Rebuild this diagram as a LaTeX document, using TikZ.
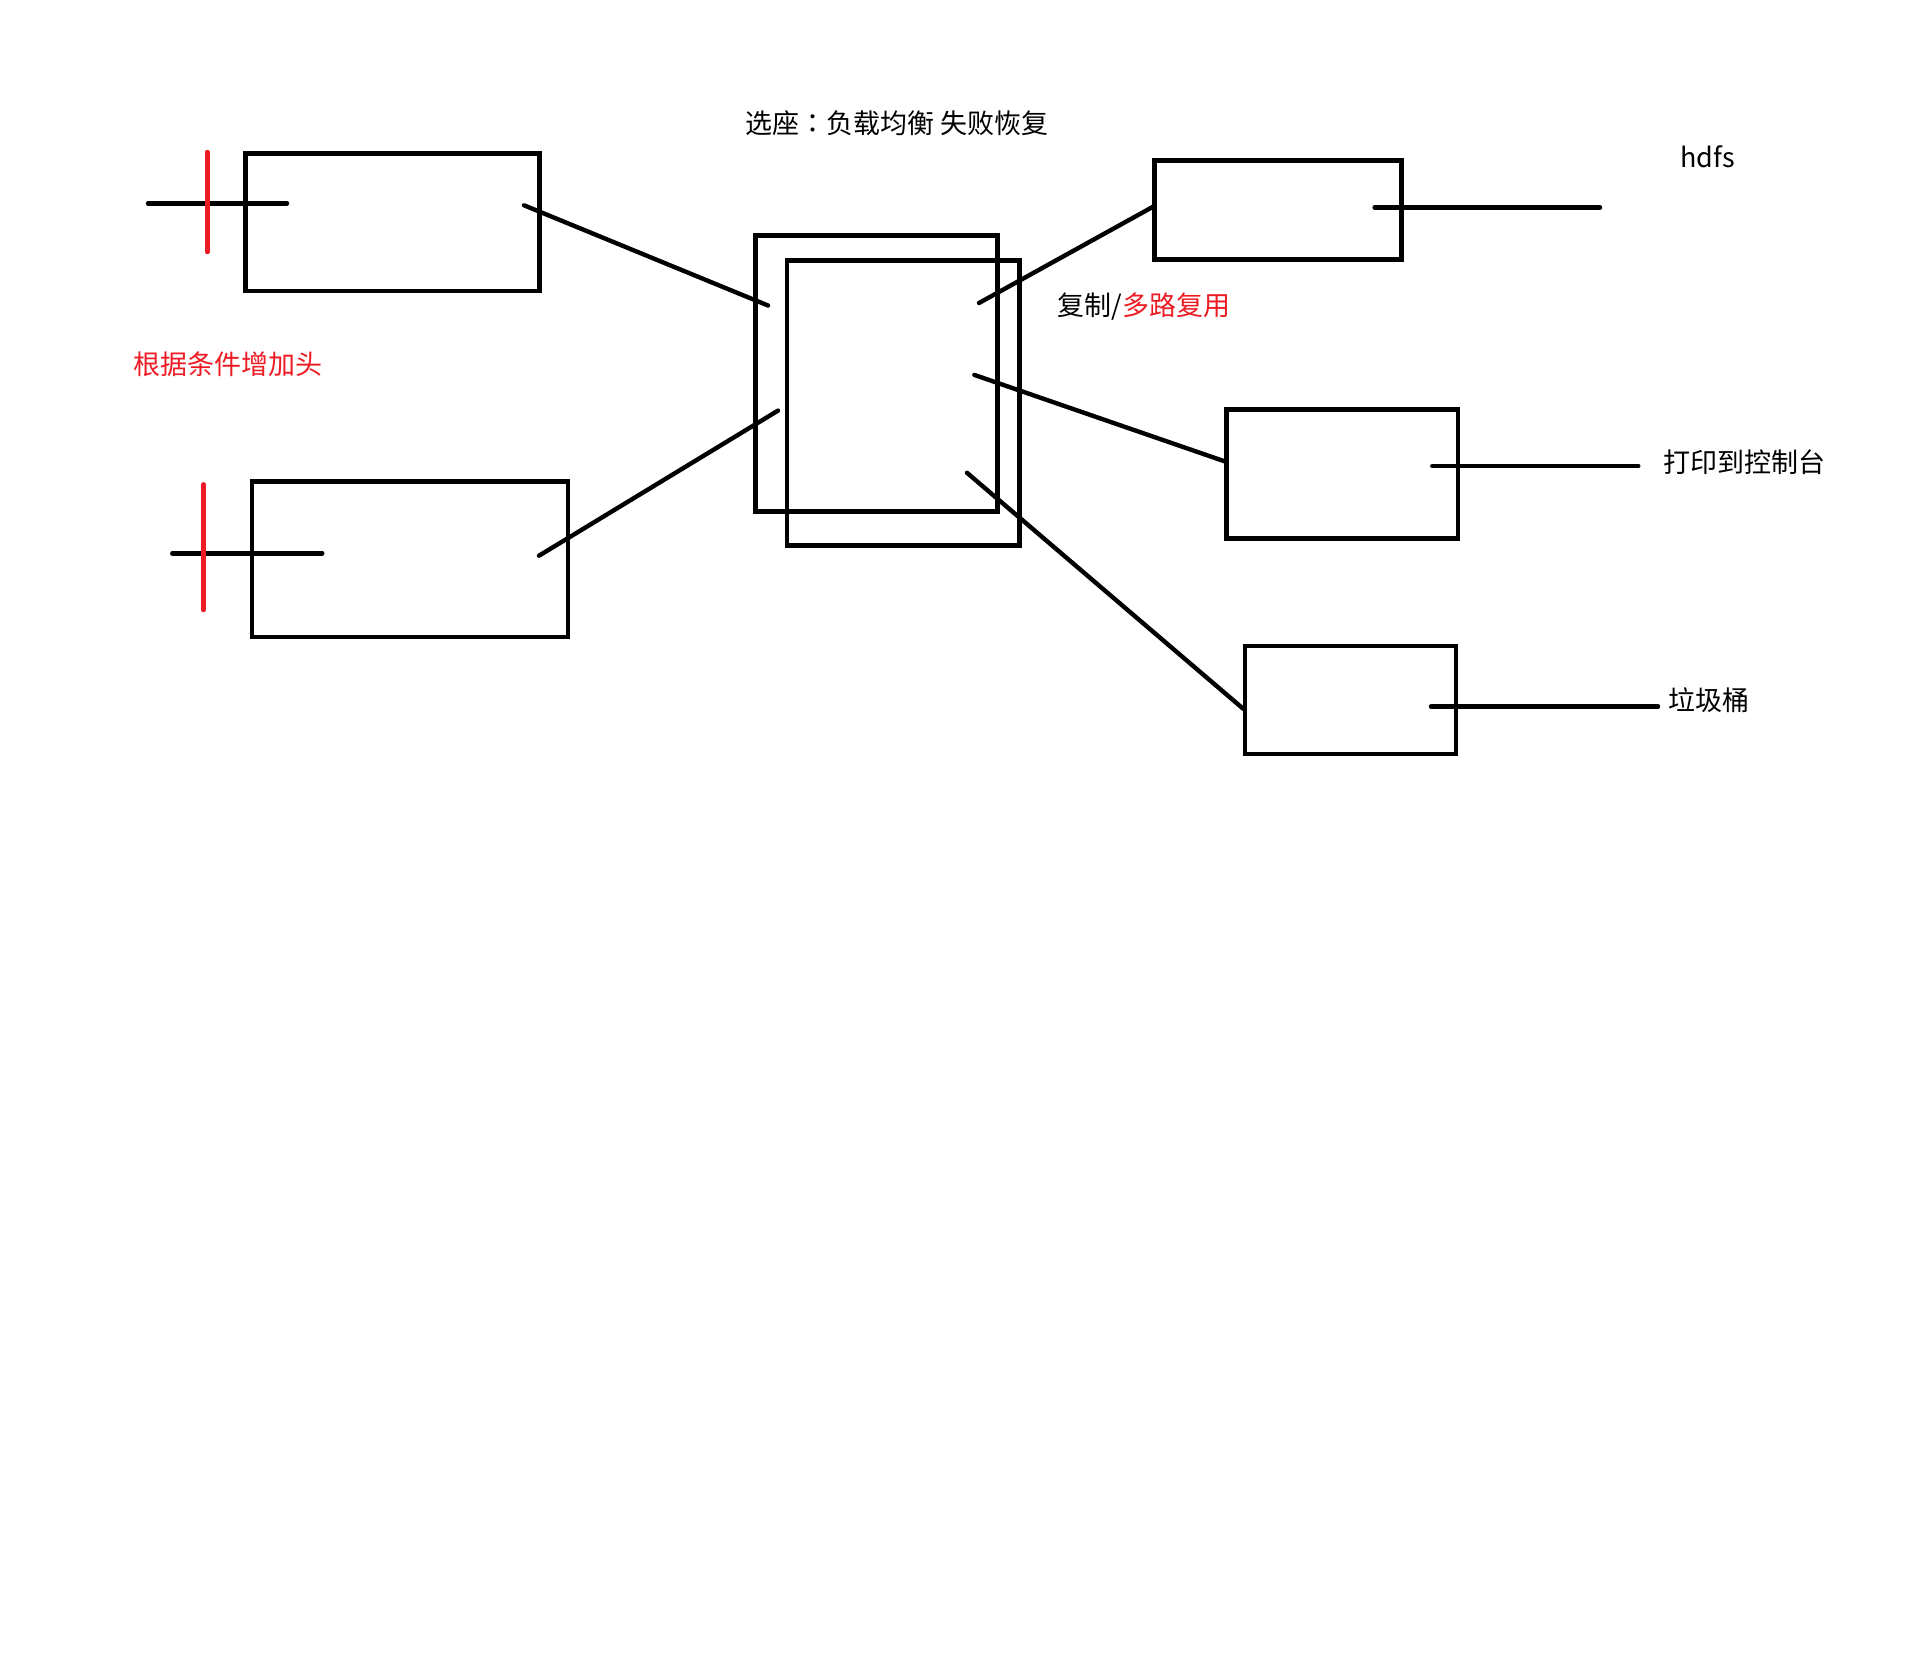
\documentclass[tikz,border=0pt]{standalone}
\usepackage{fontspec}
\newfontfamily\cjk{Noto Sans CJK SC}
\newfontfamily\cjktc{Noto Sans CJK TC}
\definecolor{penred}{RGB}{237,28,36}
\begin{document}
\begin{tikzpicture}[x=0.5pt,y=-0.5pt,
  box/.style={draw=black, line width=2.2pt, anchor=north west, inner sep=0pt, outer sep=0pt},
  wire/.style={draw=black, line width=2.2pt, line cap=round},
  tick/.style={draw=penred, line width=2.2pt, line cap=round},
  lbl/.style={anchor=west, inner sep=0pt, font=\cjk\fontsize{13.5pt}{16pt}\selectfont}]
\useasboundingbox[fill=white] (0,0) rectangle (1914,1670);

% boxes
\node[box, minimum width=147pt,    minimum height=68.85pt] (srcA) at (245.5,153.5) {};
\node[box, minimum width=158.05pt, minimum height=77.65pt] (srcB) at (251.7,481.5) {};
\node[box, minimum width=121pt,    minimum height=138.15pt] (chanBack) at (755.3,235.3) {};
\node[box, minimum width=116.15pt, minimum height=142.5pt] (chanFront) at (787,260.5) {};
\node[box, minimum width=123.5pt,  minimum height=49.5pt] (sinkD) at (1154.5,160.5) {};
\node[box, minimum width=115.75pt, minimum height=64.5pt] (sinkE) at (1226.5,409.5) {};
\node[box, minimum width=105.5pt,  minimum height=54pt] (sinkF) at (1245,646) {};

% connector end points
\coordinate (a1) at (524,205.3);   \coordinate (a2) at (768,305.5);
\coordinate (b1) at (539,555.7);   \coordinate (b2) at (778,410.6);
\coordinate (d1) at (979,303);     \coordinate (d2) at (1154,206.2);
\coordinate (e1) at (974.3,374.9); \coordinate (e2) at (1226,461.8);
\coordinate (f1) at (967,472.8);   \coordinate (f2) at (1243.5,709);
\coordinate (dOut1) at (1374.6,207.5); \coordinate (dOut2) at (1600,207.5);
\coordinate (eOut1) at (1432.3,466);   \coordinate (eOut2) at (1638.3,466);
\coordinate (fOut1) at (1431,706.5);   \coordinate (fOut2) at (1658,706.5);
\coordinate (aIn1) at (148,203.3);  \coordinate (aIn2) at (287,203.3);
\coordinate (bIn1) at (172.3,553.3); \coordinate (bIn2) at (322.3,553.3);
\coordinate (aTick1) at (207.3,152); \coordinate (aTick2) at (207.3,252);
\coordinate (bTick1) at (203.3,484.3); \coordinate (bTick2) at (203.3,610);

% connectors
\draw[wire] (a1) -- (a2);
\draw[wire] (b1) -- (b2);
\draw[wire] (d1) -- (d2);
\draw[wire] (e1) -- (e2);
\draw[wire] (f1) -- (f2);
\draw[wire] (dOut1) -- (dOut2);
\draw[wire] (eOut1) -- (eOut2);
\draw[wire] (fOut1) -- (fOut2);
\draw[wire] (aIn1) -- (aIn2);
\draw[wire] (bIn1) -- (bIn2);
\draw[tick] (aTick1) -- (aTick2);
\draw[tick] (bTick1) -- (bTick2);

% labels
\node[lbl, text=penred] (cond) at (133,364) {根据条件增加头};
\node[lbl] (title) at (745,123) {选座{\cjktc ：}负载均衡 失败恢复};
\node[lbl] (mux) at (1057.5,306.5) {复制/\textcolor{penred}{多路复用}};
\node[lbl] (hdfs) at (1680,157) {hdfs};
\node[lbl] (console) at (1663,462) {打印到控制台};
\node[lbl] (trash) at (1668,700.5) {垃圾桶};
\end{tikzpicture}
\end{document}
